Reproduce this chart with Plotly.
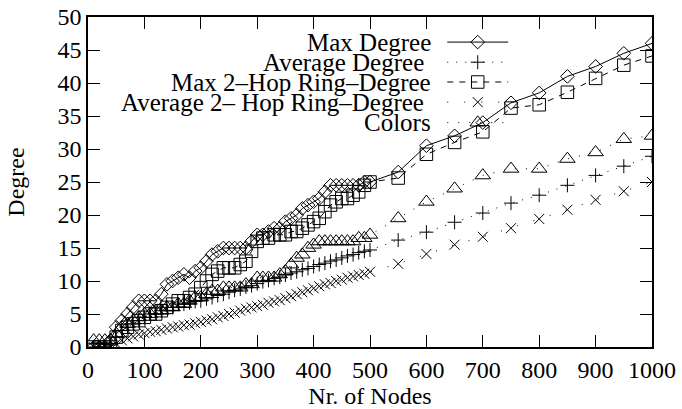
import plotly.graph_objects as go

# ---------------- data ----------------
nodes = [10, 20, 30, 40, 50, 60, 70, 80, 90, 100,
         110, 120, 130, 140, 150, 160, 170, 180, 190, 200,
         210, 220, 230, 240, 250, 260, 270, 280, 290, 300,
         310, 320, 330, 340, 350, 360, 370, 380, 390, 400,
         410, 420, 430, 440, 450, 460, 470, 480, 490, 500,
         550, 600, 650, 700, 750, 800, 850, 900, 950, 1000]

max_degree = [0, 0, 0, 1, 3, 4, 5, 6, 7, 7,
              7, 7, 8, 9.5, 10, 10.5, 11, 10.5, 11.5, 12,
              13, 14, 14.5, 15, 15, 15, 15, 15, 16, 17,
              17, 17.5, 18, 18, 19, 19.5, 20, 21, 21.5, 22,
              22.5, 23.5, 24.5, 24.5, 24.5, 24.5, 24.5, 24.5, 25, 25,
              26.5, 30.5, 32, 34, 37, 38.5, 41, 42.5, 44.5, 46]

avg_degree = [0, 0, 0, 0.3, 1.5, 2.5, 3, 3.5, 4, 4.5,
              5, 5, 5.5, 6, 6, 6.5, 6.5, 6.7, 6.9, 7.0,
              7.3, 7.5, 7.8, 8.0, 8.3, 8.6, 8.8, 9.1, 9.3, 9.6,
              9.9, 10.1, 10.4, 10.6, 10.9, 11.2, 11.4, 11.7, 11.9, 12.2,
              12.5, 12.7, 13.0, 13.2, 13.5, 13.8, 14.0, 14.3, 14.5, 14.7,
              16.2, 17.4, 18.9, 20.3, 21.8, 23, 24.5, 26, 27.4, 28.9]

max_2hop = [0, 0, 0, 0, 1.5, 2.5, 3, 3.5, 4, 4.5,
            5, 5, 5.5, 6, 6.5, 7, 7, 7.5, 8, 9,
            10, 11, 11.5, 12, 12, 12, 12.5, 13, 14.5, 16,
            16.5, 16.5, 17, 17, 17, 17.5, 17.5, 18, 18.5, 19,
            19.5, 20.5, 21.5, 22, 22.5, 22.5, 23, 23.5, 24.5, 25,
            25.6, 29.2, 31, 32.6, 36.2, 36.7, 38.6, 40.7, 42.7, 44.1]

avg_2hop = [0, 0, 0, 0, 0.5, 1.0, 1.3, 1.6, 1.9, 2.1,
            2.3, 2.4, 2.6, 2.8, 3.0, 3.1, 3.3, 3.4, 3.6, 3.8,
            4.0, 4.2, 4.5, 4.7, 5.0, 5.2, 5.5, 5.8, 6.0, 6.2,
            6.4, 6.7, 6.9, 7.1, 7.4, 7.7, 8.0, 8.3, 8.6, 8.9,
            9.2, 9.5, 9.7, 10.0, 10.2, 10.5, 10.7, 10.9, 11.1, 11.4,
            12.6, 14.1, 15.5, 16.7, 18, 19.4, 20.8, 22.3, 23.6, 25]

colors = [1, 1, 1, 1, 2, 3, 3.5, 4, 4.5, 5,
          5, 5.5, 5.5, 6, 6, 6.5, 6.5, 7, 7.5, 7.5,
          8, 8.5, 8.5, 9, 9, 9, 9, 9.5, 9.5, 10.5,
          10.5, 10.5, 10.5, 11, 11.5, 12.5, 13.5, 14, 15, 15.5,
          16, 16, 16, 16, 16, 16, 16, 16.5, 16.5, 17,
          19.5, 22, 24, 26, 27, 27, 28.5, 29.5, 31.5, 32]

series_names = ["Max Degree", "Average Degree", "Max 2\u2013Hop Ring\u2013Degree",
                "Average 2\u2013 Hop Ring\u2013Degree", "Colors"]
x_ticks = [0, 100, 200, 300, 400, 500, 600, 700, 800, 900, 1000]
y_ticks = [0, 5, 10, 15, 20, 25, 30, 35, 40, 45, 50]

# ---------------- styles ----------------
FONT = "Liberation Serif"
styles = [
    dict(symbol="diamond-open", size=10.5, dash="solid"),
    dict(symbol="cross-thin-open", size=10, dash="1px,8px"),
    dict(symbol="square-open", size=12.5, dash="6px,6px"),
    dict(symbol="x-thin-open", size=10, dash="1px,16px"),
    dict(symbol="triangle-up-open", size=13.5, dash="1px,10px"),
]
values = [max_degree, avg_degree, max_2hop, avg_2hop, colors]

fig = go.Figure()
for name, vals, st in zip(series_names, values, styles):
    fig.add_trace(go.Scatter(
        x=nodes, y=vals, mode="lines+markers", name=name, showlegend=False,
        line=dict(color="black", width=1, dash=st["dash"]),
        marker=dict(symbol=st["symbol"], size=st["size"], color="black",
                    line=dict(color="black", width=1)),
    ))

# ---------------- gnuplot-like key (text left, sample right) ----------------
key_rows = [0.924, 0.863, 0.803, 0.742, 0.680]
key_text_right = [0.612, 0.600, 0.612, 0.600, 0.612]
key_x0, key_xm, key_x1 = 0.637, 0.691, 0.745
for i, (name, st) in enumerate(zip(series_names, styles)):
    fig.add_annotation(x=key_text_right[i], y=key_rows[i], xref="paper", yref="paper",
                       text=name, showarrow=False, xanchor="right", yanchor="middle",
                       font=dict(family=FONT, size=25, color="black"))
    fig.add_trace(go.Scatter(
        x=[key_x0, key_x1], y=[key_rows[i], key_rows[i]], mode="lines",
        xaxis="x2", yaxis="y2", showlegend=False, hoverinfo="skip",
        line=dict(color="black", width=1, dash=st["dash"])))
    fig.add_trace(go.Scatter(
        x=[key_xm], y=[key_rows[i]], mode="markers",
        xaxis="x2", yaxis="y2", showlegend=False, hoverinfo="skip",
        marker=dict(symbol=st["symbol"], size=st["size"], color="black",
                    line=dict(color="black", width=1))))

axis_common = dict(showgrid=False, zeroline=False, ticks="inside", ticklen=12,
                   tickwidth=1, tickcolor="black", showline=True, linecolor="black",
                   linewidth=1.5, mirror="allticks",
                   tickfont=dict(family=FONT, size=24, color="black"))

fig.update_layout(
    width=682, height=409,
    margin=dict(l=88, r=30, t=17, b=62, autoexpand=False),
    paper_bgcolor="white", plot_bgcolor="white",
    font=dict(family=FONT, size=24, color="black"),
    xaxis=dict(range=[0, 1000], tickvals=x_ticks,
               title=dict(text="Nr. of Nodes", font=dict(family=FONT, size=24), standoff=2),
               **axis_common),
    yaxis=dict(range=[0, 50], tickvals=y_ticks,
               title=dict(text="Degree", font=dict(family=FONT, size=24), standoff=26),
               **axis_common),
    xaxis2=dict(overlaying="x", range=[0, 1], visible=False, fixedrange=True),
    yaxis2=dict(overlaying="y", range=[0, 1], visible=False, fixedrange=True),
)

fig.write_html("out.html")
